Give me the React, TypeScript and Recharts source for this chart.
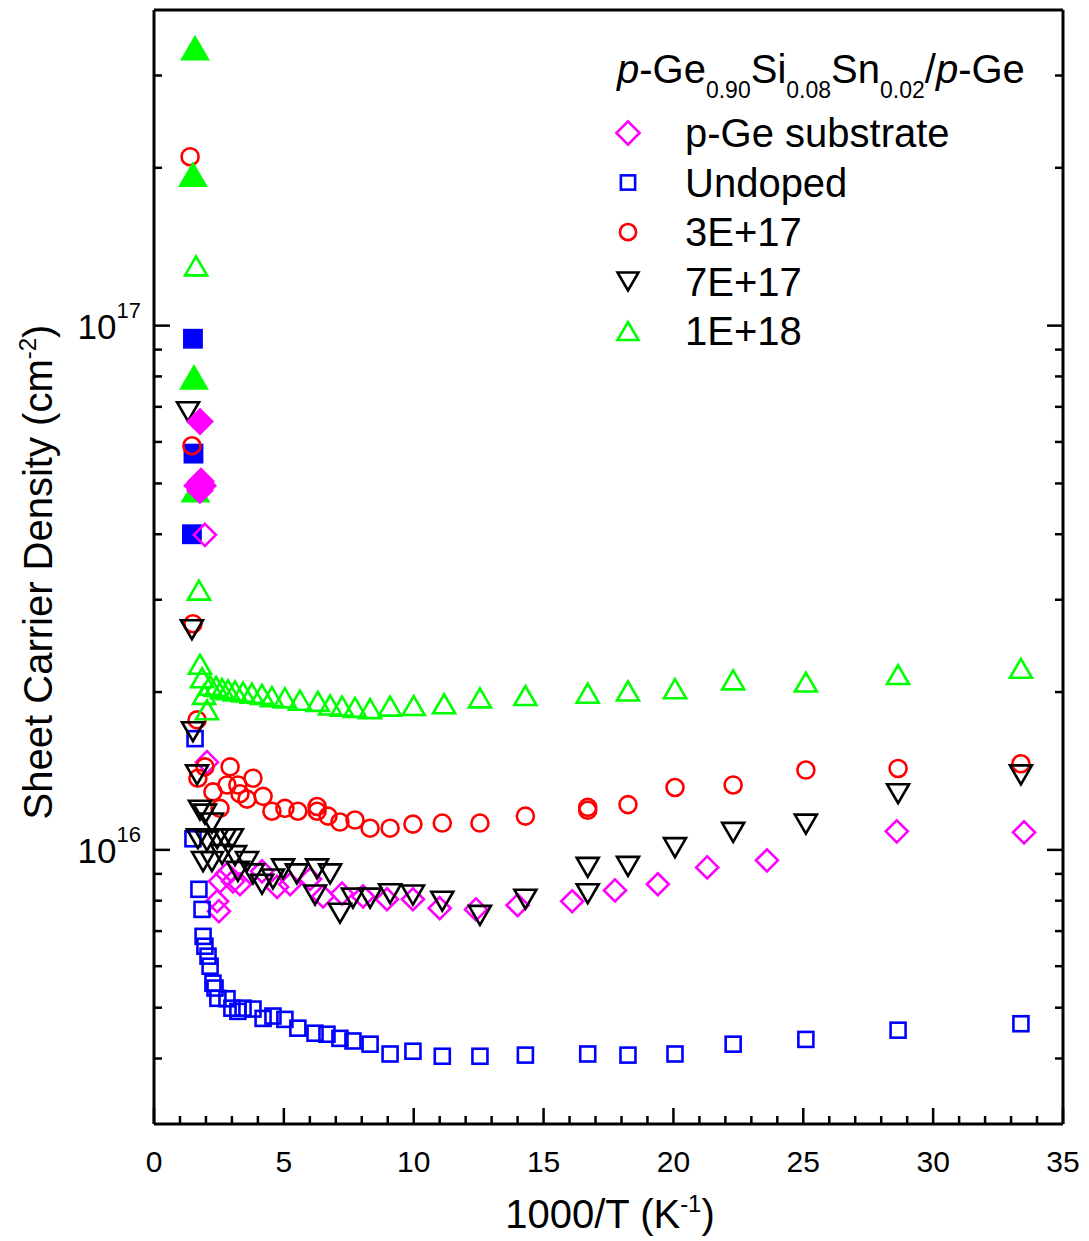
import React from "react";
import { ScatterChart, Scatter, XAxis, YAxis, Legend } from "recharts";

const FONT = "'Liberation Sans', Arial, Helvetica, sans-serif";
const MAGENTA = "#ff00ff";
const BLUE = "#0000ff";
const RED = "#ff0000";
const BLACK = "#000000";
const GREEN = "#00ff00";

// x = 1000/T (1/K), y = sheet carrier density (cm^-2)
const X_TICKS = Array.from({ length: 36 }, (_, i) => i);
const Y_TICKS = [
  4e15, 5e15, 6e15, 7e15, 8e15, 9e15,
  1e16, 2e16, 3e16, 4e16, 5e16, 6e16, 7e16, 8e16, 9e16,
  1e17, 2e17, 3e17,
];

// p-Ge substrate
const subX = [1.96, 2.04, 2.43, 2.5, 2.54, 2.81, 3.04, 3.31, 4.16, 4.74, 5.24, 6.01, 6.51, 7.24, 8.05, 8.97, 9.97, 11.0, 12.4, 14.0, 16.1, 17.75, 19.4, 21.3, 23.6, 28.6, 33.5];
const subY = [3.99e16, 1.47e16, 7.98e15, 7.64e15, 8.71e15, 9.0e15, 8.71e15, 8.6e15, 9.1e15, 8.5e15, 8.6e15, 8.8e15, 8.15e15, 8.25e15, 8.15e15, 8.05e15, 8.05e15, 7.74e15, 7.7e15, 7.84e15, 7.98e15, 8.37e15, 8.6e15, 9.26e15, 9.55e15, 1.085e16, 1.08e16];
const subFillX = [1.77, 1.66, 1.89, 1.77, 1.81];
const subFillY = [6.56e16, 4.95e16, 4.95e16, 4.85e16, 5.05e16];

// Undoped
const undX = [1.58, 1.5, 1.73, 1.85, 1.89, 1.96, 2.08, 2.16, 2.27, 2.35, 2.46, 2.81, 3.0, 3.23, 3.43, 3.81, 4.2, 4.58, 5.04, 5.54, 6.2, 6.66, 7.16, 7.66, 8.32, 9.09, 9.97, 11.1, 12.55, 14.3, 16.7, 18.25, 20.06, 22.3, 25.1, 28.65, 33.38];
const undY = [1.63e16, 1.05e16, 8.41e15, 7.7e15, 6.84e15, 6.55e15, 6.27e15, 6.0e15, 5.57e15, 5.45e15, 5.21e15, 5.2e15, 4.99e15, 4.92e15, 4.99e15, 4.97e15, 4.77e15, 4.82e15, 4.75e15, 4.57e15, 4.47e15, 4.45e15, 4.37e15, 4.32e15, 4.26e15, 4.08e15, 4.13e15, 4.04e15, 4.04e15, 4.06e15, 4.08e15, 4.06e15, 4.08e15, 4.26e15, 4.35e15, 4.53e15, 4.66e15];
const undFillX = [1.5, 1.52, 1.46];
const undFillY = [9.44e16, 5.7e16, 4.0e16];

// 3E+17
const d3X = [1.39, 1.46, 1.5, 1.66, 1.96, 1.69, 2.27, 2.54, 2.81, 2.93, 3.23, 3.31, 3.58, 3.81, 4.2, 4.54, 5.04, 5.54, 6.28, 6.28, 6.7, 7.16, 7.74, 8.32, 9.09, 9.97, 11.1, 12.55, 14.3, 16.7, 16.7, 18.25, 20.06, 22.3, 25.1, 28.65, 33.38];
const d3Y = [2.1e17, 5.9e16, 2.7e16, 1.77e16, 1.44e16, 1.37e16, 1.29e16, 1.2e16, 1.33e16, 1.44e16, 1.33e16, 1.28e16, 1.25e16, 1.37e16, 1.265e16, 1.185e16, 1.2e16, 1.185e16, 1.21e16, 1.185e16, 1.16e16, 1.13e16, 1.14e16, 1.1e16, 1.1e16, 1.12e16, 1.125e16, 1.125e16, 1.16e16, 1.205e16, 1.19e16, 1.22e16, 1.315e16, 1.33e16, 1.42e16, 1.43e16, 1.46e16];

// 7E+17
const d7X = [1.31, 1.46, 1.5, 1.66, 1.77, 1.96, 2.23, 1.69, 2.04, 2.43, 2.73, 3.0, 1.89, 2.23, 2.62, 3.12, 3.23, 3.58, 3.81, 4.16, 4.58, 4.97, 5.5, 6.28, 6.2, 6.78, 7.16, 7.66, 8.32, 9.09, 9.97, 11.1, 12.55, 14.3, 16.7, 16.7, 18.25, 20.06, 22.3, 25.1, 28.65, 33.38];
const d7Y = [6.85e16, 2.63e16, 1.68e16, 1.39e16, 1.19e16, 1.17e16, 1.125e16, 1.05e16, 1.04e16, 1.05e16, 1.05e16, 1.05e16, 9.5e15, 9.5e15, 9.8e15, 9.75e15, 9.1e15, 9.5e15, 9.0e15, 8.6e15, 8.8e15, 9.2e15, 9.0e15, 9.2e15, 8.2e15, 9.0e15, 7.57e15, 8.09e15, 8.09e15, 8.25e15, 8.2e15, 7.98e15, 7.5e15, 8.05e15, 9.26e15, 8.25e15, 9.3e15, 1.01e16, 1.08e16, 1.12e16, 1.28e16, 1.39e16];

// 1E+18
const d1X = [1.62, 1.73, 1.77, 1.85, 1.93, 2.04, 2.16, 2.39, 2.62, 2.85, 3.12, 3.43, 3.77, 4.16, 4.54, 5.04, 5.62, 6.31, 6.78, 7.24, 7.74, 8.32, 9.09, 10.0, 11.17, 12.55, 14.3, 16.7, 18.25, 20.06, 22.3, 25.1, 28.65, 33.38];
const d1Y = [1.3e17, 3.13e16, 2.26e16, 2.13e16, 1.98e16, 1.85e16, 2.06e16, 2.05e16, 2.03e16, 2.02e16, 2.01e16, 2.0e16, 1.99e16, 1.98e16, 1.96e16, 1.95e16, 1.93e16, 1.92e16, 1.89e16, 1.88e16, 1.87e16, 1.86e16, 1.88e16, 1.885e16, 1.9e16, 1.95e16, 1.97e16, 1.99e16, 2.01e16, 2.03e16, 2.11e16, 2.09e16, 2.16e16, 2.22e16];
const d1FillX = [1.58, 1.5, 1.54, 1.6];
const d1FillY = [3.38e17, 1.94e17, 7.96e16, 4.85e16];

const zip = (xs: number[], ys: number[]) => xs.map((x, i) => ({ x, y: ys[i] }));

type Kind = "diamond" | "square" | "circle" | "down" | "up";

const Mk = ({ kind, color, cx, cy, filled = false, s = 1 }: { kind: Kind; color: string; cx: number; cy: number; filled?: boolean; s?: number }) => {
  const common = {
    fill: filled ? color : "none",
    stroke: color,
    strokeWidth: 2.6,
    strokeLinejoin: "miter" as const,
  };
  if (kind === "diamond") {
    const r = 11 * s;
    return <polygon points={`${cx},${cy - r} ${cx + r},${cy} ${cx},${cy + r} ${cx - r},${cy}`} {...common} />;
  }
  if (kind === "square") {
    const h = 7.5 * s;
    return <rect x={cx - h} y={cy - h} width={2 * h} height={2 * h} {...common} />;
  }
  if (kind === "circle") {
    return <circle cx={cx} cy={cy} r={8.5 * s} {...common} />;
  }
  const w = 11 * s;
  const h = 9.5 * s;
  if (kind === "down") {
    return <polygon points={`${cx - w},${cy - h} ${cx + w},${cy - h} ${cx},${cy + h}`} {...common} />;
  }
  return <polygon points={`${cx},${cy - h} ${cx + w},${cy + h} ${cx - w},${cy + h}`} {...common} />;
};

const isDecade = (v: number) => Math.abs(Math.log10(v) - Math.round(Math.log10(v))) < 1e-6;

const BottomTick = (p: any) => {
  const v = p.payload.value;
  const major = v % 5 === 0;
  return (
    <g>
      <line x1={p.x} x2={p.x} y1={p.y} y2={p.y - (major ? 16 : 8)} stroke="#000" strokeWidth={2.5} />
      {major && (
        <text x={p.x} y={p.y + 48} textAnchor="middle" fontSize={30} fontFamily={FONT} fill="#000">
          {v}
        </text>
      )}
    </g>
  );
};

const TopTick = (p: any) => {
  const major = p.payload.value % 5 === 0;
  return <line x1={p.x} x2={p.x} y1={p.y} y2={p.y + (major ? 16 : 8)} stroke="#000" strokeWidth={2.5} />;
};

const LeftTick = (p: any) => {
  const v = p.payload.value;
  const major = isDecade(v);
  return (
    <g>
      <line x1={p.x} x2={p.x + (major ? 16 : 8)} y1={p.y} y2={p.y} stroke="#000" strokeWidth={2.5} />
      {major && (
        <text x={p.x - 13} y={p.y + 13} textAnchor="end" fontSize={35} fontFamily={FONT} fill="#000">
          10
          <tspan dy={-21} fontSize={22}>
            {Math.round(Math.log10(v))}
          </tspan>
        </text>
      )}
    </g>
  );
};

const RightTick = (p: any) => {
  const major = isDecade(p.payload.value);
  return <line x1={p.x} x2={p.x - (major ? 16 : 8)} y1={p.y} y2={p.y} stroke="#000" strokeWidth={2.5} />;
};

const XTitle = () => (
  <text x={602} y={1220} textAnchor="middle" fontSize={40} fontFamily={FONT} fill="#000">
    1000/T (K
    <tspan dy={-16} fontSize={24}>-1</tspan>
    <tspan dy={16}>)</tspan>
  </text>
);

const YTitle = () => (
  <text x={44} y={564} transform="rotate(-90 44 564)" textAnchor="middle" fontSize={40} fontFamily={FONT} fill="#000">
    Sheet Carrier Density (cm
    <tspan dy={-16} fontSize={24}>-2</tspan>
    <tspan dy={16}>)</tspan>
  </text>
);

const LEGEND_ROWS: { label: string; kind: Kind; color: string; s: number }[] = [
  { label: "p-Ge substrate", kind: "diamond", color: MAGENTA, s: 1.05 },
  { label: "Undoped", kind: "square", color: BLUE, s: 0.95 },
  { label: "3E+17", kind: "circle", color: RED, s: 0.95 },
  { label: "7E+17", kind: "down", color: BLACK, s: 0.95 },
  { label: "1E+18", kind: "up", color: GREEN, s: 0.95 },
];

const LegendBox = () => (
  <svg width={480} height={340} style={{ display: "block" }}>
    <text x={19} y={55} fontSize={40} fontFamily={FONT} fill="#000">
      <tspan fontStyle="italic">p</tspan>-Ge
      <tspan dy={15} fontSize={23}>0.90</tspan>
      <tspan dy={-15}>Si</tspan>
      <tspan dy={15} fontSize={23}>0.08</tspan>
      <tspan dy={-15}>Sn</tspan>
      <tspan dy={15} fontSize={23}>0.02</tspan>
      <tspan dy={-15}>/</tspan>
      <tspan fontStyle="italic">p</tspan>
      <tspan>-Ge</tspan>
    </text>
    {LEGEND_ROWS.map((r, i) => {
      const cy = 105 + i * 49.5;
      return (
        <g key={r.label}>
          <Mk kind={r.kind} color={r.color} cx={30} cy={cy} s={r.s} />
          <text x={87} y={cy + 14} fontSize={40} fontFamily={FONT} fill="#000">
            {r.label}
          </text>
        </g>
      );
    })}
  </svg>
);

const shape = (kind: Kind, color: string, filled = false, s = 1) => (p: any) => (
  <Mk kind={kind} color={color} cx={p.cx} cy={p.cy} filled={filled} s={s} />
);

export default function App() {
  const axisLine = { stroke: "#000", strokeWidth: 3 };
  return (
    <ScatterChart width={1073} height={1232} margin={{ top: 1, right: 17, bottom: 0, left: 0 }}>
      <XAxis
        dataKey="x"
        type="number"
        domain={[0, 35]}
        ticks={X_TICKS}
        interval={0}
        allowDataOverflow
        height={116}
        tickSize={0}
        tickMargin={0}
        tickLine={false}
        axisLine={axisLine}
        tick={(p: any) => <BottomTick {...p} />}
        label={<XTitle />}
      />
      <XAxis
        xAxisId="top"
        orientation="top"
        type="number"
        domain={[0, 35]}
        ticks={X_TICKS}
        interval={0}
        allowDataOverflow
        height={1}
        tickSize={0}
        tickMargin={0}
        tickLine={false}
        axisLine={axisLine}
        tick={(p: any) => <TopTick {...p} />}
      />
      <YAxis
        dataKey="y"
        type="number"
        scale="log"
        domain={[3e15, 4e17]}
        ticks={Y_TICKS}
        interval={0}
        allowDataOverflow
        width={146}
        tickSize={0}
        tickMargin={0}
        tickLine={false}
        axisLine={axisLine}
        tick={(p: any) => <LeftTick {...p} />}
        label={<YTitle />}
      />
      <YAxis
        yAxisId="right"
        orientation="right"
        type="number"
        scale="log"
        domain={[3e15, 4e17]}
        ticks={Y_TICKS}
        interval={0}
        allowDataOverflow
        width={1}
        tickSize={0}
        tickMargin={0}
        tickLine={false}
        axisLine={axisLine}
        tick={(p: any) => <RightTick {...p} />}
      />
      <Legend
        layout="vertical"
        align="center"
        verticalAlign="middle"
        wrapperStyle={{ left: 590, top: 20, width: 480, height: 340 }}
        content={() => <LegendBox />}
      />
      <Scatter name="Undoped filled" data={zip(undFillX, undFillY)} isAnimationActive={false} shape={shape("square", BLUE, true, 1.15)} />
      <Scatter name="p-Ge substrate" data={zip(subX, subY)} isAnimationActive={false} shape={shape("diamond", MAGENTA)} />
      <Scatter name="Undoped" data={zip(undX, undY)} isAnimationActive={false} shape={shape("square", BLUE)} />
      <Scatter name="3E+17" data={zip(d3X, d3Y)} isAnimationActive={false} shape={shape("circle", RED)} />
      <Scatter name="7E+17" data={zip(d7X, d7Y)} isAnimationActive={false} shape={shape("down", BLACK)} />
      <Scatter name="1E+18" data={zip(d1X, d1Y)} isAnimationActive={false} shape={shape("up", GREEN)} />
      <Scatter name="1E+18 filled" data={zip(d1FillX, d1FillY)} isAnimationActive={false} shape={shape("up", GREEN, true, 1.15)} />
      <Scatter name="p-Ge substrate filled" data={zip(subFillX, subFillY)} isAnimationActive={false} shape={shape("diamond", MAGENTA, true, 1.1)} />
    </ScatterChart>
  );
}
